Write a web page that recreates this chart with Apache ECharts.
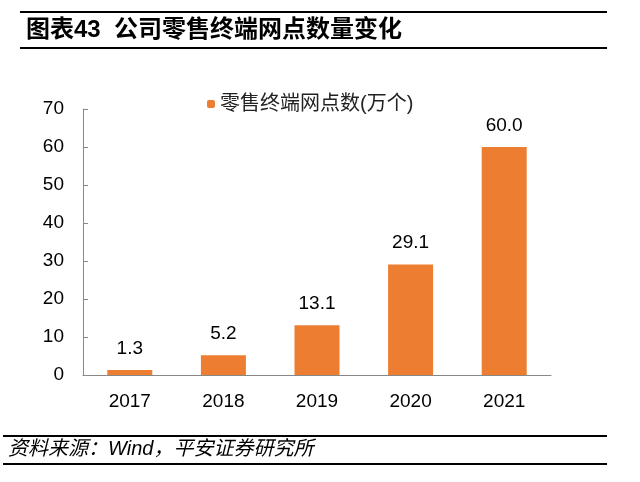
<!DOCTYPE html>
<html>
<head>
<meta charset="utf-8">
<script src="https://cdn.jsdelivr.net/npm/echarts@6/dist/echarts.min.js"></script>
<style>
  body { margin: 0; background: #fff; }
  #main { width: 640px; height: 482px; }
</style>
</head>
<body>
<div id="main"></div>
<script>
    var years = ['2017', '2018', '2019', '2020', '2021'];
    var outlets = [1.3, 5.2, 13.1, 29.1, 60.0];
    var seriesName = '零售终端网点数(万个)';

    var font = '"Liberation Sans", Arial, "Noto Sans CJK SC", sans-serif';
    var myChart = echarts.init(document.getElementById('main'));
    var option = {
        backgroundColor: '#fff',
        animation: false,
        textStyle: { fontFamily: font },
        graphic: [
            // 标题上下两条线
            { type: 'rect', shape: { x: 20, y: 11, width: 587, height: 2 }, style: { fill: '#000' } },
            { type: 'text', left: 26, top: 18, style: { text: '图表43  公司零售终端网点数量变化', fill: '#000', font: 'bold 24px "Liberation Sans", "Noto Sans CJK SC", sans-serif' } },
            { type: 'rect', shape: { x: 20, y: 47, width: 587, height: 2 }, style: { fill: '#000' } },
            // 资料来源
            { type: 'rect', shape: { x: 3, y: 435, width: 604, height: 2 }, style: { fill: '#000' } },
            { type: 'text', left: 8, top: 439, style: { text: '资料来源：Wind，平安证券研究所', fill: '#000', font: 'italic 20px "Liberation Sans", "Noto Sans CJK SC", sans-serif' } },
            { type: 'rect', shape: { x: 3, y: 463, width: 604, height: 2 }, style: { fill: '#000' } }
        ],
        legend: {
            data: [seriesName],
            top: 89,
            left: 202,
            itemWidth: 8,
            itemHeight: 8,
            itemGap: 4,
            textStyle: { fontSize: 20, color: '#222', fontFamily: '"Liberation Sans", "Noto Sans CJK SC", sans-serif' }
        },
        grid: { left: 83, right: 89, top: 109, bottom: 107 },
        xAxis: {
            type: 'category',
            data: years,
            axisLine: { lineStyle: { color: '#888' } },
            axisTick: { inside: true, length: 5, lineStyle: { color: '#888' } },
            axisLabel: { color: '#000', fontSize: 19, margin: 17 }
        },
        yAxis: {
            type: 'value',
            min: 0,
            max: 70,
            interval: 10,
            axisLine: { show: true, lineStyle: { color: '#888' } },
            axisTick: { show: true, inside: true, length: 5, lineStyle: { color: '#888' } },
            splitLine: { show: false },
            axisLabel: { color: '#000', fontSize: 19, margin: 19 }
        },
        series: [
            {
                name: seriesName,
                type: 'bar',
                data: outlets,
                barWidth: 45,
                itemStyle: { color: '#ED7D31' },
                label: {
                    show: true,
                    position: 'top',
                    distance: 12,
                    color: '#000',
                    fontSize: 19,
                    formatter: function (p) { return p.value.toFixed(1); }
                }
            }
        ]
    };
    myChart.setOption(option);
</script>
</body>
</html>
